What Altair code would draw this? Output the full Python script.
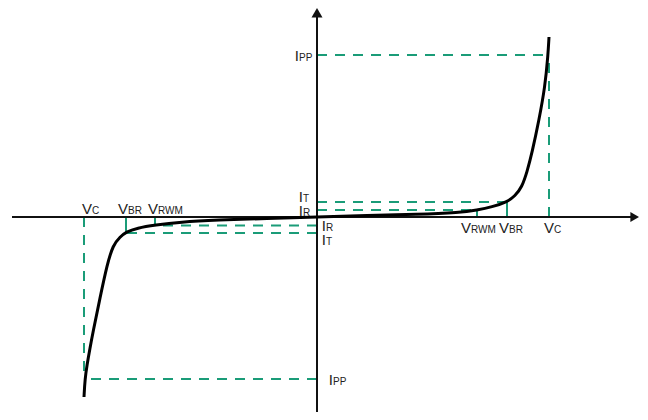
import altair as alt
import pandas as pd

# I-V characteristic of a bidirectional TVS diode (drawing units, origin at axes crossing)
curve_v = [-233, -232, -230, -227, -224, -217, -210, -204, -197, -191, -180, -162, -137, -100, -50,
           0, 50, 100, 143, 160, 175, 190, 198, 205, 210, 215, 222, 228, 231, 232]
curve_i = [-180, -162, -148, -131, -115, -81, -48, -28, -20, -15, -11, -8, -5, -3, -1.5,
           0, 1.5, 2.5, 4.5, 7, 10, 15, 21, 30, 45, 64, 97, 130, 162, 180]

# characteristic points, positive and negative branch
V_RWM = [160, -162]
V_BR = [190, -191]
V_C = [232, -233]
I_R = [7, -8.5]
I_T = [15, -16]
I_PP = [162, -162]

X_DOM = [-309, 323]
Y_DOM = [-195, 209]
GREEN = "#1a9c78"
FONT = "Liberation Sans"
TXT = "#222222"

xs = alt.Scale(domain=X_DOM, nice=False, zero=False)
ys = alt.Scale(domain=Y_DOM, nice=False, zero=False)

curve = pd.DataFrame({"x": curve_v, "y": curve_i, "o": range(len(curve_v))})

dashed_rows, solid_rows = [], []
for k in range(2):
    dashed_rows += [
        dict(x=0, x2=V_C[k], y=I_PP[k], y2=I_PP[k]),
        dict(x=0, x2=V_BR[k], y=I_T[k], y2=I_T[k]),
        dict(x=0, x2=V_RWM[k], y=I_R[k], y2=I_R[k]),
        dict(x=V_C[k], x2=V_C[k], y=0, y2=I_PP[k]),
    ]
    solid_rows += [
        dict(x=V_BR[k], x2=V_BR[k], y=0, y2=I_T[k]),
        dict(x=V_RWM[k], x2=V_RWM[k], y=0, y2=I_R[k]),
    ]
dashed = pd.DataFrame(dashed_rows)
solid = pd.DataFrame(solid_rows)

# labels: main letter right-aligned at anchor, subscript left-aligned at anchor
labels = pd.DataFrame([
    dict(m="I", s="PP", x=-18, y=I_PP[0] - 6),
    dict(m="I", s="T", x=-14, y=I_T[0]),
    dict(m="I", s="R", x=-14, y=I_R[0] - 6),
    dict(m="I", s="R", x=9, y=I_R[1] - 5.5),
    dict(m="I", s="T", x=9, y=I_T[1] - 12),
    dict(m="I", s="PP", x=16, y=I_PP[1] - 6),
    dict(m="V", s="RWM", x=V_RWM[0] - 6, y=-16),
    dict(m="V", s="BR", x=V_BR[0] + 2, y=-16),
    dict(m="V", s="C", x=V_C[0] + 5, y=-16),
    dict(m="V", s="C", x=V_C[1] + 8, y=3),
    dict(m="V", s="BR", x=V_BR[1] + 2, y=3),
    dict(m="V", s="RWM", x=V_RWM[1] + 3, y=3),
])

axes = pd.DataFrame([
    dict(x=X_DOM[0] + 4, x2=315, y=0, y2=0),
    dict(x=0, x2=0, y=200, y2=Y_DOM[0]),
])
arrows = pd.DataFrame([
    dict(x=0, y=204.2, shape="triangle-up"),
    dict(x=317.7, y=0, shape="triangle-right"),
])

def enc_rule():
    return dict(
        x=alt.X("x:Q", scale=xs, axis=None),
        x2="x2:Q",
        y=alt.Y("y:Q", scale=ys, axis=None),
        y2="y2:Q",
    )

axes_layer = alt.Chart(axes).mark_rule(color="#111111", strokeWidth=2).encode(**enc_rule())
arrow_up = alt.Chart(arrows.iloc[[0]]).mark_point(
    shape="triangle-up", filled=True, size=121, color="#111111", opacity=1
).encode(x=alt.X("x:Q", scale=xs, axis=None), y=alt.Y("y:Q", scale=ys, axis=None))
arrow_right = alt.Chart(arrows.iloc[[1]]).mark_point(
    shape="triangle-right", filled=True, size=100, color="#111111", opacity=1
).encode(x=alt.X("x:Q", scale=xs, axis=None), y=alt.Y("y:Q", scale=ys, axis=None))

dashed_layer = alt.Chart(dashed).mark_rule(
    color=GREEN, strokeWidth=2, strokeDash=[10, 8]
).encode(**enc_rule())
solid_layer = alt.Chart(solid).mark_rule(color=GREEN, strokeWidth=2).encode(**enc_rule())

curve_layer = alt.Chart(curve).mark_line(
    color="black", strokeWidth=3, interpolate="basis"
).encode(
    x=alt.X("x:Q", scale=xs, axis=None),
    y=alt.Y("y:Q", scale=ys, axis=None),
    order="o:Q",
)

main_text = alt.Chart(labels).mark_text(
    align="right", baseline="alphabetic", font=FONT, fontSize=15, color=TXT
).encode(
    x=alt.X("x:Q", scale=xs, axis=None),
    y=alt.Y("y:Q", scale=ys, axis=None),
    text="m:N",
)
sub_text = alt.Chart(labels).mark_text(
    align="left", baseline="alphabetic", font=FONT, fontSize=10, color=TXT
).encode(
    x=alt.X("x:Q", scale=xs, axis=None),
    y=alt.Y("y:Q", scale=ys, axis=None),
    text="s:N",
)

chart = alt.layer(
    dashed_layer, solid_layer, axes_layer, arrow_up, arrow_right, curve_layer, main_text, sub_text
).properties(
    width=632, height=404, padding=0, autosize=alt.AutoSizeParams(type="none"), background="white"
).configure_view(stroke=None)

chart.save("out.html", embed_options={"renderer": "svg", "actions": False})
